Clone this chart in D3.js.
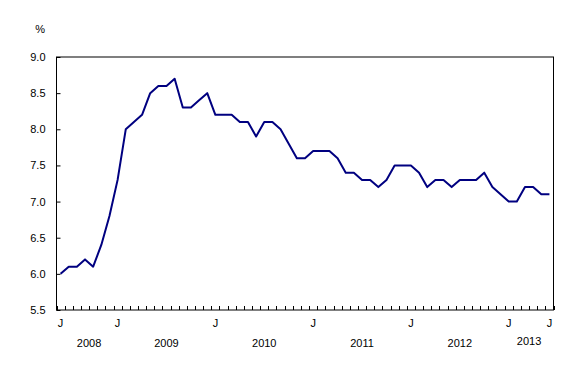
<!DOCTYPE html>
<html>
<head>
<meta charset="utf-8">
<script src="https://cdn.jsdelivr.net/npm/d3@7"></script>
<style>
  body { margin: 0; background: #fff; }
  text { font-family: "Liberation Sans", Arial, sans-serif; font-size: 11px; fill: #000; }
</style>
</head>
<body>
<svg id="chart" width="588" height="380"></svg>
<script>
// monthly rate, June 2008 to June 2013
const rates = [6.0, 6.1, 6.1, 6.2, 6.1, 6.4, 6.8,
    7.3, 8.0, 8.1, 8.2, 8.5, 8.6, 8.6, 8.7, 8.3, 8.3, 8.4, 8.5,
    8.2, 8.2, 8.2, 8.1, 8.1, 7.9, 8.1, 8.1, 8.0, 7.8, 7.6, 7.6,
    7.7, 7.7, 7.7, 7.6, 7.4, 7.4, 7.3, 7.3, 7.2, 7.3, 7.5, 7.5,
    7.5, 7.4, 7.2, 7.3, 7.3, 7.2, 7.3, 7.3, 7.3, 7.4, 7.2, 7.1,
    7.0, 7.0, 7.2, 7.2, 7.1, 7.1];
const monthLabels = [{i: 0, t: "J"}, {i: 7, t: "J"}, {i: 19, t: "J"}, {i: 31, t: "J"},
    {i: 43, t: "J"}, {i: 55, t: "J"}, {i: 60, t: "J"}];
const years = [{y: "2008", from: 0, to: 7}, {y: "2009", from: 7, to: 19},
    {y: "2010", from: 19, to: 31}, {y: "2011", from: 31, to: 43},
    {y: "2012", from: 43, to: 55}, {y: "2013", from: 55, to: 60}];
const yTicks = [5.5, 6.0, 6.5, 7.0, 7.5, 8.0, 8.5, 9.0];

const svg = d3.select("#chart");
const plot = {left: 56.5, right: 553.5, top: 57, bottom: 310};

const x = d3.scaleLinear().domain([-0.5, rates.length - 0.5]).range([plot.left, plot.right]);
const y = d3.scaleLinear().domain([5.5, 9.0]).range([plot.bottom, plot.top]);

// frame
svg.append("rect")
    .attr("x", plot.left).attr("y", plot.top)
    .attr("width", plot.right - plot.left).attr("height", plot.bottom - plot.top)
    .attr("fill", "none").attr("stroke", "#000").attr("stroke-width", 1);

// y ticks (inward) and labels
const yAxis = d3.axisLeft(y).tickValues(yTicks).tickSize(-4).tickPadding(10)
    .tickFormat(d3.format(".1f"));
svg.append("g")
    .attr("transform", `translate(${plot.left},0)`)
    .call(yAxis)
    .call(g => g.select(".domain").remove())
    .call(g => g.selectAll("text").attr("font-size", null).attr("font-family", null).attr("x", -11))
    .call(g => g.selectAll("line").attr("stroke", "#000"));

svg.append("text")
    .attr("x", 45).attr("y", 33)
    .attr("text-anchor", "end")
    .text("%");

// month ticks at boundaries (inward)
const bounds = d3.range(rates.length + 1).map(i => i - 0.5);
svg.append("g").selectAll("line")
    .data(bounds)
    .join("line")
    .attr("x1", d => Math.round(x(d)) + 0.5).attr("x2", d => Math.round(x(d)) + 0.5)
    .attr("y1", plot.bottom).attr("y2", plot.bottom - 4)
    .attr("stroke", "#000");

// month letters
svg.append("g").selectAll("text")
    .data(monthLabels)
    .join("text")
    .attr("x", d => x(d.i))
    .attr("y", 327)
    .attr("text-anchor", "middle")
    .text(d => d.t);

// year labels
svg.append("g").selectAll("text")
    .data(years)
    .join("text")
    .attr("x", d => x((d.from + d.to) / 2))
    .attr("y", d => d.y === "2013" ? 345 : 347)
    .attr("text-anchor", "middle")
    .text(d => d.y);

// the line
const line = d3.line()
    .x((d, i) => x(i))
    .y(d => y(d));

svg.append("path")
    .datum(rates)
    .attr("fill", "none")
    .attr("stroke", "#000080")
    .attr("stroke-width", 2)
    .attr("stroke-linejoin", "round")
    .attr("d", line);
</script>
</body>
</html>
